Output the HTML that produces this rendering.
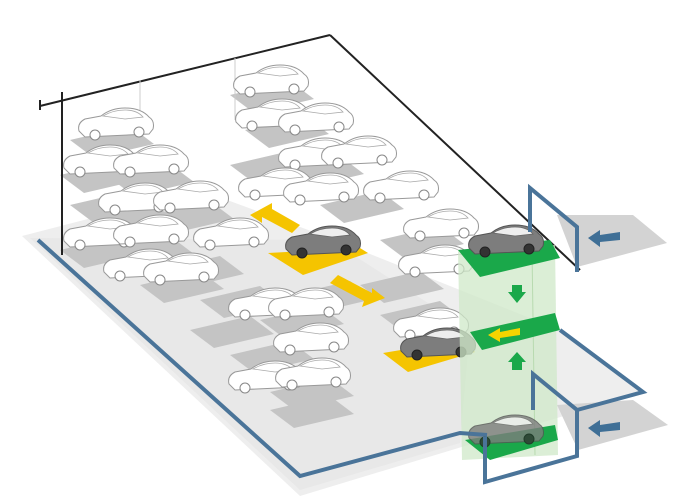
<!DOCTYPE html>
<html><head><meta charset="utf-8"><style>html,body{margin:0;padding:0;background:#fff}svg{display:block}</style></head><body>
<svg width="680" height="501" viewBox="0 0 680 501" xmlns="http://www.w3.org/2000/svg">
<defs>
<g id="car">
<path d="M-36,6 Q-38,-2 -30,-6 L-14,-9 Q-4,-17 10,-17 Q26,-17 34,-8 Q40,-4 38,4 L34,9 L-30,12 Z" fill="#fff" stroke="#999" stroke-width="1"/>
<path d="M-12,-9 Q-2,-15 10,-15 Q22,-15 28,-8 L10,-6 Z" fill="#fff" stroke="#aaa" stroke-width="0.8"/>
<circle cx="-20" cy="10" r="5" fill="#fff" stroke="#888"/>
<circle cx="24" cy="7" r="5" fill="#fff" stroke="#888"/>
</g>
<g id="dcar">
<path d="M-36,6 Q-38,-2 -30,-6 L-14,-9 Q-4,-17 10,-17 Q26,-17 34,-8 Q40,-4 38,4 L34,9 L-30,12 Z" fill="#7d7d7d" stroke="#555" stroke-width="1"/>
<path d="M-12,-9 Q-2,-15 10,-15 Q22,-15 28,-8 L10,-6 Z" fill="#eee" stroke="#666" stroke-width="0.8"/>
<circle cx="-20" cy="10" r="5" fill="#333" stroke="#222"/>
<circle cx="24" cy="7" r="5" fill="#333" stroke="#222"/>
</g>
<g id="slot"><polygon points="-40,0 20,-14 44,4 -16,18" fill="#c4c4c4"/></g>
</defs>
<!-- floor -->
<polygon points="22,236 300,496 643,392 560,330 330,238 200,190" fill="#eeeeee"/>
<polygon points="30,238 300,490 460,443 470,330 330,240" fill="#e8e8e8"/>
<!-- slots -->
<g>
<use href="#slot" x="110" y="140"/><use href="#slot" x="100" y="175"/><use href="#slot" x="150" y="178"/>
<use href="#slot" x="130" y="215"/><use href="#slot" x="190" y="215"/><use href="#slot" x="100" y="250"/>
<use href="#slot" x="150" y="250"/><use href="#slot" x="200" y="270"/><use href="#slot" x="180" y="285"/>
<use href="#slot" x="270" y="95"/><use href="#slot" x="285" y="130"/><use href="#slot" x="320" y="170"/>
<use href="#slot" x="270" y="165"/><use href="#slot" x="360" y="205"/><use href="#slot" x="420" y="240"/>
<use href="#slot" x="240" y="300"/><use href="#slot" x="300" y="320"/><use href="#slot" x="270" y="355"/>
<use href="#slot" x="310" y="392"/><use href="#slot" x="310" y="410"/><use href="#slot" x="230" y="330"/>
<use href="#slot" x="400" y="285"/><use href="#slot" x="420" y="315"/><use href="#slot" x="330" y="295"/>
<use href="#slot" x="110" y="205"/>
</g>
<!-- black frame lines -->
<line x1="40" y1="106" x2="330" y2="35" stroke="#222" stroke-width="2"/>
<line x1="330" y1="35" x2="580" y2="270" stroke="#222" stroke-width="2"/>
<line x1="62" y1="92" x2="62" y2="255" stroke="#222" stroke-width="2"/>
<line x1="40" y1="100" x2="40" y2="110" stroke="#222" stroke-width="2"/>
<line x1="140" y1="80" x2="140" y2="125" stroke="#ccc" stroke-width="1"/>
<line x1="235" y1="58" x2="235" y2="120" stroke="#ccc" stroke-width="1"/>
<!-- cars -->
<g>
<use href="#car" x="115" y="125"/><use href="#car" x="270" y="82"/><use href="#car" x="272" y="116"/>
<use href="#car" x="315" y="120"/><use href="#car" x="100" y="162"/><use href="#car" x="150" y="162"/>
<use href="#car" x="315" y="155"/><use href="#car" x="358" y="153"/><use href="#car" x="135" y="200"/>
<use href="#car" x="190" y="198"/><use href="#car" x="275" y="185"/><use href="#car" x="320" y="190"/>
<use href="#car" x="400" y="188"/><use href="#car" x="100" y="235"/><use href="#car" x="150" y="232"/>
<use href="#car" x="230" y="235"/><use href="#car" x="440" y="226"/><use href="#car" x="140" y="266"/>
<use href="#car" x="180" y="270"/><use href="#car" x="435" y="262"/><use href="#car" x="265" y="305"/>
<use href="#car" x="305" y="305"/><use href="#car" x="310" y="340"/><use href="#car" x="430" y="325"/>
<use href="#car" x="265" y="378"/><use href="#car" x="312" y="375"/>
</g>
<!-- yellow arrows -->
<polygon points="250,215 272,203 272,209 300,225 292,233 262,217 262,223" fill="#f5c400"/>
<polygon points="385,298 362,307 364,301 330,283 338,275 372,293 372,288" fill="#f5c400"/>
<!-- yellow platforms -->
<polygon points="268,253 360,248 368,253 303,275" fill="#f5c400"/>
<use href="#dcar" x="322" y="243"/>
<polygon points="383,353 460,340 475,352 408,372" fill="#f5c400"/>
<use href="#dcar" x="437" y="345"/>
<!-- entrance strips -->
<polygon points="557,215 633,215 667,243 577,267" fill="#d3d3d3"/>
<polygon points="557,405 633,400 668,425 578,450" fill="#d3d3d3"/>
<polygon points="588,238 600,230 600,235 620,232 620,240 600,242 600,247" fill="#3f6f96"/>
<polygon points="588,428 600,420 600,425 620,422 620,430 600,432 600,437" fill="#3f6f96"/>
<!-- green shaft -->
<polygon points="458,250 555,245 558,455 462,460" fill="#cfe8c8" opacity="0.75"/>
<line x1="532" y1="250" x2="535" y2="455" stroke="#b8dab0" stroke-width="1"/>
<polygon points="458,250 550,240 560,258 480,277" fill="#1aa84a"/>
<use href="#dcar" x="505" y="242"/>
<polygon points="470,332 555,313 560,330 482,350" fill="#1aa84a"/>
<polygon points="488,335 500,328 500,332 520,328 520,335 500,338 500,342" fill="#f5d400"/>
<polygon points="512,285 522,285 522,292 526,292 517,303 508,292 512,292" fill="#1aa84a"/>
<polygon points="512,370 522,370 522,362 526,362 517,352 508,362 512,362" fill="#1aa84a"/>
<polygon points="465,440 555,425 558,440 490,460" fill="#1aa84a"/>
<use href="#dcar" x="505" y="432" opacity="0.8"/>
<!-- blue border -->
<polyline points="38,240 300,476 460,433 487,435" fill="none" stroke="#4a7499" stroke-width="4"/>
<polyline points="560,330 643,392 577,410" fill="none" stroke="#4a7499" stroke-width="4"/>
<polyline points="530,232 530,188 577,227 577,272" fill="none" stroke="#4a7499" stroke-width="4"/>
<polyline points="533,410 533,374 577,410 577,456 485,482 485,437" fill="none" stroke="#4a7499" stroke-width="4"/>
</svg>
</body></html>
